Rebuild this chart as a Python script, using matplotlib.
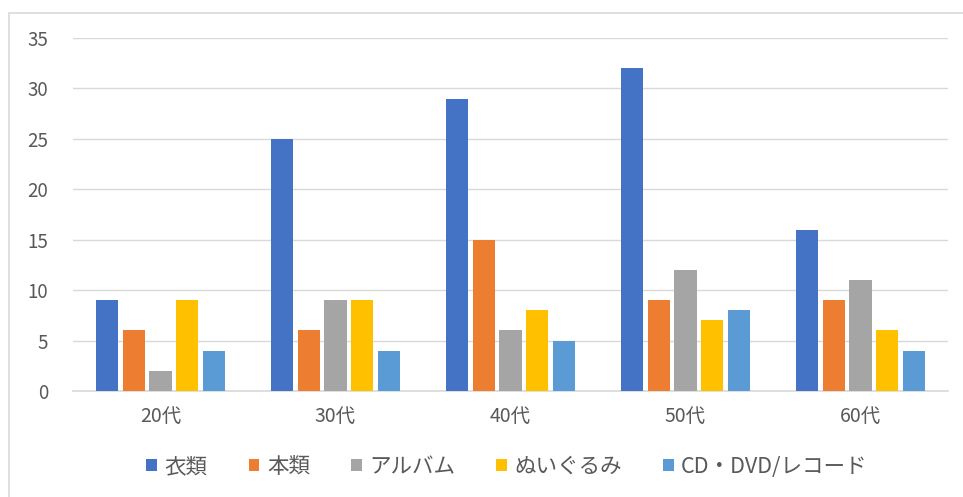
import numpy as np
import matplotlib.pyplot as plt
from matplotlib.patches import Rectangle

plt.rcParams['font.family'] = ['Noto Sans CJK JP', 'DejaVu Sans']

groups = ["20代", "30代", "40代", "50代", "60代"]
series = ["衣類", "本類", "アルバム", "ぬいぐるみ", "CD・DVD/レコード"]
clothes = [9, 25, 29, 32, 16]
books = [6, 6, 15, 9, 9]
albums = [2, 9, 6, 12, 11]
plush = [9, 9, 8, 7, 6]
media = [4, 4, 5, 8, 4]
colors = ["#4472C4", "#ED7D31", "#A5A5A5", "#FFC000", "#5B9BD5"]

fig = plt.figure(figsize=(9.63, 4.97), dpi=100)
ax = fig.add_axes([73 / 963, 1 - 391 / 497, 875 / 963, 353 / 497])

# chart border like the Excel chart frame
fig.patches.append(Rectangle((9 / 963, -0.01), 1.0, 1 - 13 / 497 + 0.01,
                             transform=fig.transFigure, fill=False,
                             edgecolor="#D9D9D9", linewidth=1.2))

x = np.arange(len(groups))
width = 0.126
step = 0.154
for i, (vals, name, c) in enumerate(zip([clothes, books, albums, plush, media], series, colors)):
    ax.bar(x + (i - 2) * step, vals, width, color=c, label=name, zorder=3)

ax.set_xlim(-0.5, len(groups) - 0.5)
ax.set_ylim(0, 35)
ax.set_yticks(range(0, 36, 5))
ax.set_xticks(x)
ax.set_xticklabels(groups)
ax.grid(axis="y", color="#D9D9D9", linewidth=1, zorder=0)
for s in ["top", "right", "left"]:
    ax.spines[s].set_visible(False)
ax.spines["bottom"].set_color("#D9D9D9")
ax.spines["bottom"].set_linewidth(1.2)
ax.tick_params(axis="both", length=0, colors="#595959")
ax.tick_params(axis="y", pad=18, labelsize=13.5)
ax.tick_params(axis="x", pad=11, labelsize=14)

ax.legend(loc="center", bbox_to_anchor=(0.496, -0.215), ncol=5, frameon=False,
          fontsize=15.5, labelcolor="#595959", handlelength=0.5, handleheight=0.5,
          handletextpad=0.35, columnspacing=1.9)

fig.savefig("out.png", dpi=100)
